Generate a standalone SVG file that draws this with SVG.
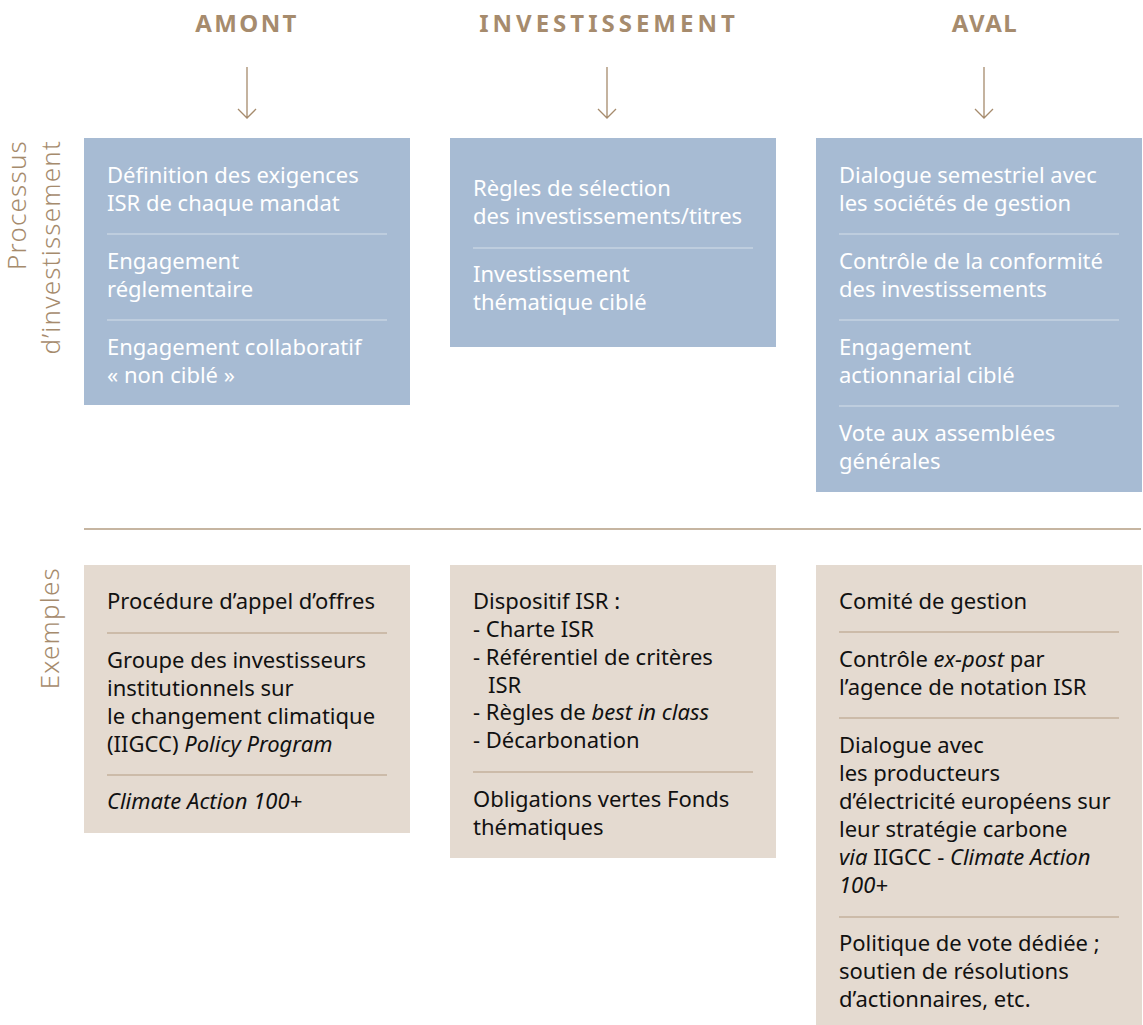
<svg xmlns="http://www.w3.org/2000/svg" width="1143" height="1025" viewBox="0 0 1143 1025">
<style>
.hdr{font-family:"Noto Sans",sans-serif;font-weight:700;font-size:24px;fill:#a68b6d;text-anchor:middle;letter-spacing:2.4px}
.side{font-family:"Noto Sans",sans-serif;font-weight:300;font-size:26px;fill:#a68b6d;text-anchor:end;letter-spacing:1.2px}
.blue{fill:#a7bbd3}
.beige{fill:#e4dad0}
.wt{font-family:"Noto Sans",sans-serif;font-weight:400;font-size:22px;fill:#ffffff}
.bt{font-family:"Noto Sans",sans-serif;font-weight:400;font-size:22px;fill:#111111}
.sepw{stroke:#d6e0ea;stroke-width:1.2}
.sepb{stroke:#b39c82;stroke-width:1.2}
.arr{stroke:#a68b6d;stroke-width:1.3;fill:none}
.it{font-style:italic}
</style>
<g id="headers">
<text class="hdr" x="247" y="32">AMONT</text>
<text class="hdr" x="609" y="32" style="letter-spacing:4px">INVESTISSEMENT</text>
<text class="hdr" x="985" y="32" style="letter-spacing:1.6px">AVAL</text>
</g>
<g id="side-labels">
<text class="side" transform="translate(26,140) rotate(-90)">Processus</text>
<text class="side" transform="translate(60,140) rotate(-90)">d’investissement</text>
<text class="side" transform="translate(59,567) rotate(-90)">Exemples</text>
</g>
<g id="connectors">
<path class="arr" d="M247 67V118M238 109L247 118L256 109"/>
<path class="arr" d="M607 67V118M598 109L607 118L616 109"/>
<path class="arr" d="M984 67V118M975 109L984 118L993 109"/>
<line x1="84" y1="529" x2="1141" y2="529" stroke="#b39c82" stroke-width="1.3"/>
</g>
<g id="amont-process">
<rect class="blue" x="84" y="138" width="326" height="267"/>
<text class="wt" x="107" y="183">Définition des exigences</text>
<text class="wt" x="107" y="211">ISR de chaque mandat</text>
<line class="sepw" x1="107" y1="234" x2="387" y2="234"/>
<text class="wt" x="107" y="269">Engagement</text>
<text class="wt" x="107" y="297">réglementaire</text>
<line class="sepw" x1="107" y1="320" x2="387" y2="320"/>
<text class="wt" x="107" y="355">Engagement collaboratif</text>
<text class="wt" x="107" y="383">« non ciblé »</text>
</g>
<g id="investissement-process">
<rect class="blue" x="450" y="138" width="326" height="209"/>
<text class="wt" x="473" y="196">Règles de sélection</text>
<text class="wt" x="473" y="224">des investissements/titres</text>
<line class="sepw" x1="473" y1="248" x2="753" y2="248"/>
<text class="wt" x="473" y="282">Investissement</text>
<text class="wt" x="473" y="310">thématique ciblé</text>
</g>
<g id="aval-process">
<rect class="blue" x="816" y="138" width="326" height="354"/>
<text class="wt" x="839" y="183">Dialogue semestriel avec</text>
<text class="wt" x="839" y="211">les sociétés de gestion</text>
<line class="sepw" x1="839" y1="234" x2="1119" y2="234"/>
<text class="wt" x="839" y="269">Contrôle de la conformité</text>
<text class="wt" x="839" y="297">des investissements</text>
<line class="sepw" x1="839" y1="320" x2="1119" y2="320"/>
<text class="wt" x="839" y="355">Engagement</text>
<text class="wt" x="839" y="383">actionnarial ciblé</text>
<line class="sepw" x1="839" y1="406" x2="1119" y2="406"/>
<text class="wt" x="839" y="441">Vote aux assemblées</text>
<text class="wt" x="839" y="469">générales</text>
</g>
<g id="amont-exemples">
<rect class="beige" x="84" y="565" width="326" height="268"/>
<text class="bt" x="107" y="609">Procédure d’appel d’offres</text>
<line class="sepb" x1="107" y1="633" x2="387" y2="633"/>
<text class="bt" x="107" y="668">Groupe des investisseurs</text>
<text class="bt" x="107" y="696">institutionnels sur</text>
<text class="bt" x="107" y="724">le changement climatique</text>
<text class="bt" x="107" y="752">(IIGCC) <tspan class="it">Policy Program</tspan></text>
<line class="sepb" x1="107" y1="775" x2="387" y2="775"/>
<text class="bt it" x="107" y="809">Climate Action 100+</text>
</g>
<g id="investissement-exemples">
<rect class="beige" x="450" y="565" width="326" height="293"/>
<text class="bt" x="473" y="609">Dispositif ISR :<tspan x="473" y="637">- Charte ISR</tspan><tspan x="473" y="665">- Référentiel de critères</tspan><tspan x="488" y="693">ISR</tspan><tspan x="473" y="720">- Règles de </tspan><tspan class="it">best in class</tspan><tspan x="473" y="748">- Décarbonation</tspan></text>
<line class="sepb" x1="473" y1="772" x2="753" y2="772"/>
<text class="bt" x="473" y="807">Obligations vertes Fonds</text>
<text class="bt" x="473" y="835">thématiques</text>
</g>
<g id="aval-exemples">
<rect class="beige" x="816" y="565" width="326" height="460"/>
<text class="bt" x="839" y="609">Comité de gestion</text>
<line class="sepb" x1="839" y1="632" x2="1119" y2="632"/>
<text class="bt" x="839" y="667">Contrôle <tspan class="it">ex-post</tspan> par</text>
<text class="bt" x="839" y="695">l’agence de notation ISR</text>
<line class="sepb" x1="839" y1="718" x2="1119" y2="718"/>
<text class="bt" x="839" y="753">Dialogue avec</text>
<text class="bt" x="839" y="781">les producteurs</text>
<text class="bt" x="839" y="809">d’électricité européens sur</text>
<text class="bt" x="839" y="837">leur stratégie carbone</text>
<text class="bt" x="839" y="865"><tspan class="it">via</tspan> IIGCC - <tspan class="it">Climate Action</tspan></text>
<text class="bt it" x="839" y="893">100+</text>
<line class="sepb" x1="839" y1="917" x2="1119" y2="917"/>
<text class="bt" x="839" y="951">Politique de vote dédiée ;</text>
<text class="bt" x="839" y="979">soutien de résolutions</text>
<text class="bt" x="839" y="1007">d’actionnaires, etc.</text>
</g>
</svg>
